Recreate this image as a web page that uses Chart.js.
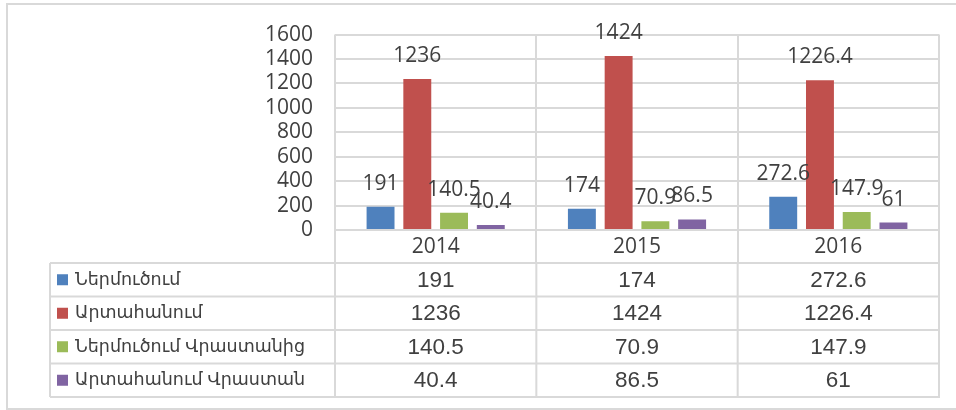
<!DOCTYPE html>
<html>
<head>
<meta charset="utf-8">
<script src="https://cdn.jsdelivr.net/npm/chart.js@4/dist/chart.umd.min.js"></script>
<style>
    body { margin: 0; background: #fff; }
</style>
</head>
<body>
<canvas id="myChart" width="956" height="410"></canvas>
<script>
const years = ["2014", "2015", "2016"];
const seriesNames = [
    "Ներմուծում",
    "Արտահանում",
    "Ներմուծում Վրաստանից",
    "Արտահանում Վրաստան",
];
const imports = [191, 174, 272.6];
const exports = [1236, 1424, 1226.4];
const importsGeorgia = [140.5, 70.9, 147.9];
const exportsGeorgia = [40.4, 86.5, 61];
const yTicks = [0, 200, 400, 600, 800, 1000, 1200, 1400, 1600];

const colors = ["#4F81BD", "#C0504D", "#9BBB59", "#8064A2"];
const gridColor = "#d9d9d9";
const textColor = "#404040";
const chartFont = "'Open Sans', sans-serif";
const tableFont = "'Liberation Sans', 'DejaVu Sans', sans-serif";

// outer frame around the whole figure
const framePlugin = {
    id: "frame",
    beforeDraw(chart) {
        const c = chart.ctx;
        c.save();
        c.strokeStyle = gridColor;
        c.lineWidth = 2;
        c.strokeRect(7, 4, 980, 405);
        c.restore();
    },
};

// value labels above each bar
const valueLabels = {
    id: "valueLabels",
    afterDatasetsDraw(chart) {
        const c = chart.ctx;
        c.save();
        c.font = "21px " + chartFont;
        c.fillStyle = textColor;
        c.textAlign = "center";
        c.textBaseline = "middle";
        chart.data.datasets.forEach((ds, i) => {
            chart.getDatasetMeta(i).data.forEach((bar, j) => {
                c.fillText(String(ds.data[j]), bar.x, bar.y - 23);
            });
        });
        c.restore();
    },
};

// Excel style data table under the axis
const dataTable = {
    id: "dataTable",
    afterDraw(chart) {
        const c = chart.ctx;
        const x = chart.scales.x;
        const top = x.bottom;
        const rowH = 33.5;
        const left = 50;
        const right = chart.chartArea.right;
        const n = chart.data.labels.length;
        const step = (right - chart.chartArea.left) / n;
        const rows = chart.data.datasets.length;

        c.save();
        c.strokeStyle = gridColor;
        c.lineWidth = 2;
        c.beginPath();
        for (let r = 0; r <= rows; r++) {
            c.moveTo(left, top + r * rowH);
            c.lineTo(right + 1, top + r * rowH);
        }
        c.moveTo(left, top);
        c.lineTo(left, top + rows * rowH);
        for (let k = 0; k <= n; k++) {
            const px = chart.chartArea.left + k * step;
            c.moveTo(px, top);
            c.lineTo(px, top + rows * rowH);
        }
        c.stroke();

        c.textBaseline = "middle";
        chart.data.datasets.forEach((ds, r) => {
            const cy = top + r * rowH + rowH / 2;
            c.fillStyle = ds.backgroundColor;
            c.fillRect(57, cy - 5.5, 11, 11);
            c.fillStyle = textColor;
            c.textAlign = "left";
            c.font = "17.5px " + tableFont;
            c.fillText(ds.label, 75, cy);
            c.textAlign = "center";
            c.font = "22.5px " + tableFont;
            ds.data.forEach((v, j) => {
                c.fillText(String(v), x.getPixelForValue(j), cy + 1);
            });
        });
        c.restore();
    },
};

const seriesData = [imports, exports, importsGeorgia, exportsGeorgia];

var ctx = document.getElementById("myChart").getContext("2d");
var myChart = new Chart(ctx, {
    type: "bar",
    data: {
        labels: years,
        datasets: seriesData.map((d, i) => ({
            label: seriesNames[i],
            data: d,
            backgroundColor: colors[i],
            categoryPercentage: 0.73,
            barPercentage: 0.76,
        })),
    },
    options: {
        responsive: false,
        animation: false,
        layout: {
            padding: { left: 0, top: 32, right: 17, bottom: 147 },
        },
        plugins: {
            legend: { display: false },
            tooltip: { enabled: false },
        },
        scales: {
            x: {
                grid: {
                    offset: true,
                    color: gridColor,
                    lineWidth: 2,
                    drawTicks: true,
                    tickLength: 33,
                },
                border: { display: false },
                ticks: {
                    color: textColor,
                    font: { family: chartFont, size: 21 },
                    padding: -29,
                },
                afterFit(scale) {
                    scale.height = 33;
                },
            },
            y: {
                min: 0,
                max: 1600,
                afterBuildTicks(scale) {
                    scale.ticks = yTicks.map((v) => ({ value: v }));
                },
                grid: {
                    color: gridColor,
                    lineWidth: 2,
                    drawTicks: false,
                },
                border: { display: false },
                ticks: {
                    autoSkip: false,
                    color: textColor,
                    font: { family: chartFont, size: 21 },
                    padding: 22,
                    callback: (v) => String(v),
                },
                afterFit(scale) {
                    scale.width = 335;
                },
            },
        },
    },
    plugins: [framePlugin, valueLabels, dataTable],
});
</script>
</body>
</html>
